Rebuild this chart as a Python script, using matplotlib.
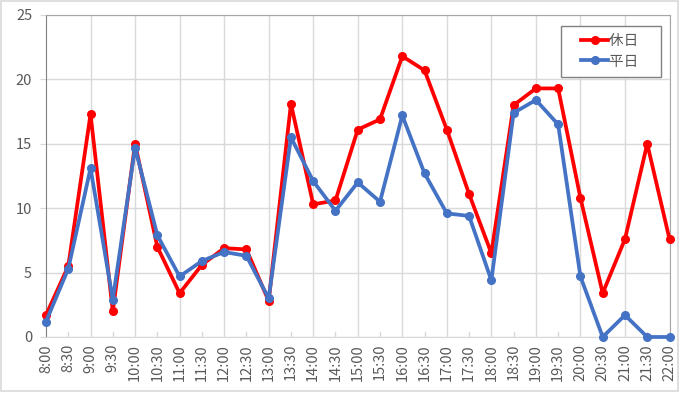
import matplotlib

matplotlib.use("Agg")
import matplotlib.pyplot as plt
import numpy as np
from matplotlib.legend_handler import HandlerLine2D
from matplotlib.patches import Rectangle

plt.rcParams["font.family"] = ["Noto Sans CJK JP", "DejaVu Sans"]

times = ["8:00", "8:30", "9:00", "9:30", "10:00", "10:30", "11:00", "11:30",
         "12:00", "12:30", "13:00", "13:30", "14:00", "14:30", "15:00",
         "15:30", "16:00", "16:30", "17:00", "17:30", "18:00", "18:30",
         "19:00", "19:30", "20:00", "20:30", "21:00", "21:30", "22:00"]
holiday = [1.7, 5.5, 17.3, 2.0, 15.0, 7.0, 3.4, 5.6, 6.9, 6.8, 2.8, 18.1,
           10.3, 10.6, 16.1, 16.9, 21.8, 20.7, 16.1, 11.1, 6.5, 18.0, 19.3,
           19.3, 10.8, 3.4, 7.6, 15.0, 7.6]
weekday = [1.2, 5.3, 13.1, 2.9, 14.7, 7.9, 4.7, 5.9, 6.6, 6.3, 3.0, 15.5,
           12.1, 9.8, 12.0, 10.5, 17.2, 12.7, 9.6, 9.4, 4.4, 17.4, 18.4,
           16.5, 4.7, 0.0, 1.7, 0.0, 0.0]

RED = "#FF0000"
BLUE = "#4472C4"
GRID = "#D9D9D9"
TXT = "#595959"

fig = plt.figure(figsize=(6.81, 3.96), dpi=100)
ax = fig.add_axes([46 / 681, 1 - 337 / 396, (669.5 - 46) / 681, (337 - 15) / 396])

x = np.arange(len(times))
ax.plot(x, holiday, color=RED, lw=2.7, marker="o", ms=5.5, label="休日　",
        clip_on=False, zorder=3)
ax.plot(x, weekday, color=BLUE, lw=2.7, marker="o", ms=5.5, label="平日　",
        clip_on=False, zorder=4)

ax.set_xlim(0, len(times) - 1)
ax.set_ylim(0, 25)
ax.set_yticks(range(0, 26, 5))
ax.set_xticks(x)
ax.set_xticklabels(times, rotation=90)
ax.tick_params(axis="x", length=0, pad=5, labelsize=10.5, labelcolor=TXT)
ax.tick_params(axis="y", length=4, color=GRID, pad=6, labelsize=10.5,
               labelcolor=TXT)

ax.grid(axis="y", color=GRID, lw=1.0, zorder=0)
for i in x[2::2]:
    ax.axvline(i, color=GRID, lw=1.0, zorder=0)
for i in x[1::2]:
    ax.plot([i, i], [0, 0.35], color=GRID, lw=1.0, zorder=0)

for side in ("top", "right"):
    ax.spines[side].set_color("#A6A6A6")
ax.spines["left"].set_color("#808080")
ax.spines["bottom"].set_color(GRID)

# left padding inside the legend box, like Excel's
hl = HandlerLine2D(xpad=0.85)
leg = ax.legend(loc="upper right", bbox_to_anchor=(0.987, 0.966),
                borderaxespad=0, fontsize=10.5, handlelength=2.7,
                handletextpad=0.1, labelspacing=0.45, borderpad=0.55,
                fancybox=False, framealpha=1, edgecolor="#808080",
                labelcolor=TXT,
                handler_map={matplotlib.lines.Line2D: hl})
leg.get_frame().set_linewidth(1.0)

fig.patches.append(Rectangle((1 / 681, 5 / 396), 677 / 681, 390 / 396,
                             transform=fig.transFigure, fill=False,
                             ec="#D9D9D9", lw=1.2))

fig.savefig("out.png", dpi=100)
